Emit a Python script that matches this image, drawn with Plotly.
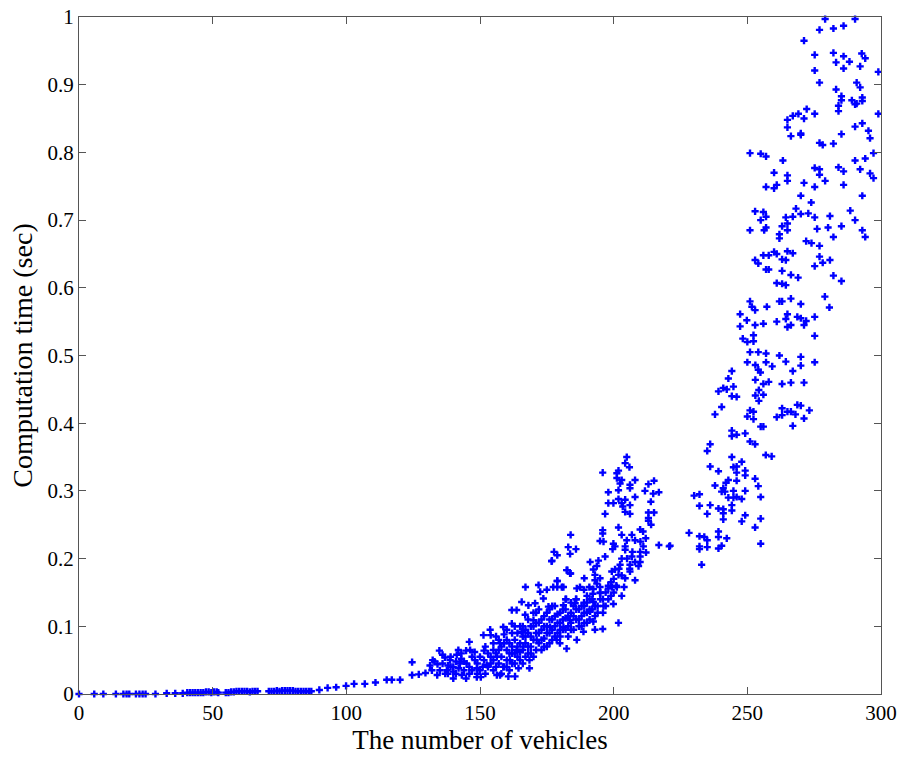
import plotly.graph_objects as go

# (number of vehicles, computation time in sec), grouped by region
low_pts = [
    (0, 0), (5.7, 0), (9.1, 0), (13.8, 0), (16.6, 0), (17.8, 0), (18.8, 0), (21.3, 0), (22.6, 0),
    (23.8, 0), (24.9, 0), (28.6, 0), (32.8, 0.001), (36, 0.001), (38.8, 0.001), (40.5, 0.002),
    (41.5, 0.002), (42.5, 0.002), (43.5, 0.002), (44.5, 0.002), (45.5, 0.002), (46.5, 0.002),
    (47.5, 0.003), (48.5, 0.003), (49.5, 0.002), (50.5, 0.003), (51.5, 0.003), (52.1, 0.002),
    (54.9, 0.002), (55.9, 0.002), (56.9, 0.003), (57.9, 0.003), (58.9, 0.004), (59.9, 0.004),
    (60.9, 0.004), (61.9, 0.004), (62.9, 0.004), (63.9, 0.003), (64.9, 0.004), (65.9, 0.004),
    (66.8, 0.004), (71, 0.004), (72, 0.004), (73, 0.004), (74, 0.005), (75, 0.004), (76, 0.005),
    (77, 0.005), (78, 0.005), (79, 0.005), (80, 0.005), (81, 0.004), (82, 0.004), (83, 0.004),
    (84, 0.004), (85, 0.004), (86, 0.004), (86.9, 0.004), (89.9, 0.006), (93, 0.009),
    (96.2, 0.010), (99.9, 0.012), (102.9, 0.015), (106.9, 0.015), (110.9, 0.017), (115.1, 0.021),
    (117, 0.021), (120.1, 0.021),
]

mid_pts = [
    (124.6, 0.047), (124.6, 0.028), (127.1, 0.029), (129.6, 0.031), (131.3, 0.042), (132.3, 0.050),
    (134.8, 0.064), (134.1, 0.044), (136.9, 0.054), (138.8, 0.050), (140, 0.040), (137.6, 0.035),
    (141.3, 0.058), (141.9, 0.065), (142.5, 0.045), (140, 0.023), (143.2, 0.028), (144.8, 0.023),
    (144.8, 0.064), (146.3, 0.065), (146, 0.077), (148.1, 0.050), (148.8, 0.038), (148.8, 0.025),
    (150.3, 0.025), (151.3, 0.087), (151.5, 0.050), (152.5, 0.043), (151.5, 0.064), (153.8, 0.095),
    (154, 0.087), (155, 0.065), (156.3, 0.028), (157.5, 0.028), (156.3, 0.055), (157.5, 0.075),
    (158.7, 0.099), (160, 0.080), (158.7, 0.040), (160.6, 0.026), (163.1, 0.026), (161.2, 0.050),
    (161.9, 0.104), (161.9, 0.124), (163.7, 0.124), (164.4, 0.038), (163.7, 0.065), (165.6, 0.092),
    (166.2, 0.070), (166.9, 0.117), (165.6, 0.136), (167, 0.158), (168.1, 0.131), (168.5, 0.050),
    (168.5, 0.038), (170, 0.109), (170.6, 0.134), (171.2, 0.080), (171.9, 0.161), (172.5, 0.151),
    (173.7, 0.141), (175, 0.154), (175.6, 0.129), (176.8, 0.196), (177.4, 0.158), (178.9, 0.167),
    (180.6, 0.158), (176.2, 0.099), (178.7, 0.080), (179.9, 0.075), (181.2, 0.099), (182.7, 0.183),
    (183.7, 0.178), (182.4, 0.067), (183.7, 0.109), (185.6, 0.134), (186.2, 0.080),
]

dense_pts = [
    (135, 0.035), (136, 0.045), (137, 0.030), (138, 0.042), (139, 0.055), (140, 0.033), (141, 0.048),
    (142, 0.038), (143, 0.052), (144, 0.035), (145, 0.045), (146, 0.030), (147, 0.055), (149, 0.045),
    (150, 0.035), (152, 0.030), (153, 0.060), (154, 0.045), (155, 0.075), (155, 0.035), (156, 0.060),
    (157, 0.045), (157, 0.080), (158, 0.055), (158, 0.070), (159, 0.040), (159, 0.088), (160, 0.065),
    (160, 0.050), (161, 0.075), (161, 0.035), (162, 0.060), (162, 0.090), (163, 0.045), (163, 0.080),
    (164, 0.070), (164, 0.055), (165, 0.100), (165, 0.062), (166, 0.085), (166, 0.045), (167, 0.075),
    (167, 0.095), (168, 0.060), (168, 0.110), (169, 0.085), (169, 0.070), (170, 0.100), (170, 0.055),
    (171, 0.090), (171, 0.120), (172, 0.075), (172, 0.105), (173, 0.065), (173, 0.095), (174, 0.115),
    (174, 0.082), (175, 0.100), (175, 0.070), (176, 0.125), (176, 0.090), (177, 0.110), (177, 0.080),
    (178, 0.100), (178, 0.130), (179, 0.090), (179, 0.118), (180, 0.105), (180, 0.085), (181, 0.125),
    (181, 0.095), (182, 0.112), (182, 0.140), (183, 0.100), (183, 0.085), (184, 0.120), (184, 0.105),
    (185, 0.130), (185, 0.095), (186, 0.110), (186, 0.140), (187, 0.100), (187, 0.125), (188, 0.115),
    (189, 0.105), (189, 0.130), (190, 0.120), (191, 0.110), (191, 0.140), (192, 0.125), (193, 0.115),
    (194, 0.130), (195, 0.140), (196, 0.120), (197, 0.150), (198, 0.140), (199, 0.165), (200, 0.150),
]

dense_extra_pts = [
    (132, 0.035), (133, 0.048), (134, 0.028), (136, 0.058), (138, 0.030), (139, 0.040), (141, 0.030),
    (143, 0.060), (144, 0.048), (146, 0.040), (147, 0.035), (148, 0.062), (149, 0.030), (150, 0.055),
    (151, 0.040), (152, 0.070), (153, 0.040), (154, 0.055), (155, 0.050), (156, 0.040), (156, 0.085),
    (157, 0.065), (158, 0.030), (159, 0.075), (160, 0.095), (160, 0.040), (161, 0.060), (162, 0.070),
    (162, 0.045), (163, 0.100), (163, 0.060), (164, 0.090), (165, 0.075), (165, 0.050), (166, 0.065),
    (166, 0.100), (167, 0.085), (167, 0.055), (168, 0.090), (168, 0.070), (169, 0.100), (169, 0.060),
    (170, 0.080), (170, 0.120), (171, 0.065), (171, 0.105), (172, 0.090), (172, 0.125), (173, 0.110),
    (173, 0.080), (174, 0.100), (174, 0.070), (175, 0.120), (175, 0.090), (176, 0.110), (176, 0.075),
    (177, 0.095), (177, 0.130), (178, 0.115), (178, 0.085), (179, 0.105), (180, 0.120), (180, 0.095),
    (181, 0.110), (182, 0.125), (182, 0.095), (183, 0.115), (184, 0.135), (184, 0.095), (185, 0.115),
    (186, 0.125), (187, 0.110), (188, 0.130), (188, 0.100), (189, 0.120), (190, 0.135), (190, 0.105),
    (191, 0.125), (192, 0.140), (193, 0.130), (194, 0.120), (195, 0.150), (196, 0.140), (197, 0.130),
    (198, 0.160), (199, 0.145), (200, 0.170), (201, 0.160), (202, 0.185), (203, 0.175), (205, 0.200),
    (206, 0.185), (207, 0.210), (208, 0.195), (210, 0.225), (211, 0.240), (212, 0.230), (214, 0.250),
]

upper_mid_pts = [
    (204.9, 0.350), (204.3, 0.341), (205.9, 0.335), (201.8, 0.330), (201.2, 0.326), (195.9, 0.327),
    (201.2, 0.319), (203, 0.316), (208, 0.316), (202.4, 0.311), (206.1, 0.309), (206.1, 0.304),
    (213, 0.310), (215.1, 0.315), (211.7, 0.300), (214.8, 0.296), (216.9, 0.298), (198, 0.298),
    (201.8, 0.301), (208, 0.291), (201.8, 0.288), (198, 0.282), (199.9, 0.282), (203, 0.282),
    (204.3, 0.287), (203.4, 0.277), (206.1, 0.279), (213.9, 0.284), (196.8, 0.266), (204.3, 0.269),
    (206.1, 0.266), (213, 0.268), (215.1, 0.268), (213, 0.260), (213, 0.256), (201.8, 0.246),
    (195.9, 0.242), (195.9, 0.237), (209.9, 0.243), (203, 0.235), (183.9, 0.235), (194.9, 0.226),
    (196.2, 0.225), (199.9, 0.222), (204.9, 0.227), (206.8, 0.235), (208, 0.227), (200.5, 0.218),
    (204.3, 0.218), (211.1, 0.218), (216.9, 0.220), (220.8, 0.218), (199.6, 0.214), (204.3, 0.213),
    (177.7, 0.210), (178.9, 0.205), (183, 0.217), (185.9, 0.214), (183.7, 0.207), (209.9, 0.210),
    (212.1, 0.209), (206.8, 0.203), (209.9, 0.203), (196.8, 0.203), (203, 0.200), (176.9, 0.197),
    (191.2, 0.195), (194.3, 0.197), (193.7, 0.189), (192.4, 0.184), (202.4, 0.191), (206.1, 0.191),
    (209.9, 0.195), (209.3, 0.189), (200.5, 0.184), (199.3, 0.181), (206.1, 0.181), (182.4, 0.183),
    (183.9, 0.178), (201.8, 0.176), (193, 0.176), (189, 0.171), (194.9, 0.171), (204.3, 0.171),
    (208, 0.168), (178.9, 0.167), (193, 0.168), (193.7, 0.163), (194.9, 0.158), (201.2, 0.158),
    (203.9, 0.158), (178.9, 0.158), (181.2, 0.158), (187.4, 0.158), (190.9, 0.158), (192.4, 0.155),
    (198, 0.156), (199.3, 0.158), (188.9, 0.154), (186.2, 0.156), (194.9, 0.149), (192.2, 0.148),
    (203, 0.145), (190, 0.145), (185.9, 0.140), (188.9, 0.135), (192.4, 0.136), (199.9, 0.133),
    (196.2, 0.130), (182.2, 0.140), (181.2, 0.131), (191.2, 0.122), (201.8, 0.105), (193, 0.095),
    (195.9, 0.096), (192.4, 0.107), (188.7, 0.092),
]

rise_pts = [
    (244.2, 0.477), (242.9, 0.466), (244.8, 0.454), (241, 0.452), (242.3, 0.450), (239.2, 0.447),
    (244.2, 0.440), (246, 0.439), (240.4, 0.424), (237.9, 0.413), (244.2, 0.389), (244.2, 0.381),
    (246, 0.383), (236.1, 0.369), (235, 0.359), (244.2, 0.350), (236.1, 0.336), (244.8, 0.335),
    (246, 0.336), (239.2, 0.329), (246, 0.327), (242.9, 0.316), (246, 0.315), (242, 0.312),
    (237.9, 0.308), (241, 0.304), (240.4, 0.299), (241.6, 0.299), (244.8, 0.300), (230.1, 0.293),
    (232.1, 0.295), (242.9, 0.290), (244.8, 0.290), (246, 0.291), (244.2, 0.279), (232.1, 0.278),
    (236.1, 0.279), (239.2, 0.274), (241, 0.273), (244.2, 0.271), (241, 0.267), (235, 0.266),
    (241, 0.258), (228.2, 0.238), (232.1, 0.233), (233.9, 0.232), (235, 0.227), (239.2, 0.240),
    (239.2, 0.232), (242.3, 0.230), (232.1, 0.218), (232.1, 0.214), (235, 0.217), (239.2, 0.215),
    (240.4, 0.219), (232.9, 0.191), (221.1, 0.219),
    (249.2, 0.385), (251, 0.373), (252.9, 0.369), (256.9, 0.353), (259.1, 0.351), (247.9, 0.343),
    (249.2, 0.330), (249.2, 0.323), (252.9, 0.318), (254.1, 0.307), (249.2, 0.300), (247.9, 0.288),
    (255, 0.291), (249.2, 0.264), (247.9, 0.255), (255, 0.259), (252.9, 0.246), (255, 0.222),
]

top_pts = [
    (279.1, 0.997), (290.3, 0.997), (277, 0.981), (282.2, 0.983), (286, 0.987), (271.2, 0.965),
    (275.2, 0.944), (282.2, 0.947), (286, 0.942), (283.2, 0.933), (288.2, 0.934), (292.8, 0.946),
    (294.1, 0.939), (286, 0.924), (292.2, 0.927), (275.2, 0.921), (299, 0.919), (277, 0.903),
    (290.9, 0.903), (292.2, 0.896), (283.2, 0.893), (285.2, 0.883), (285.2, 0.877), (289.1, 0.877),
    (293, 0.881), (293, 0.876), (284.1, 0.869), (290.3, 0.871), (290.9, 0.872), (284.1, 0.861),
    (272.2, 0.864), (269.1, 0.857), (271.2, 0.850), (275.2, 0.857), (267, 0.854), (265, 0.848),
    (265, 0.837), (299, 0.857), (293, 0.843), (290.3, 0.838), (295.3, 0.832), (266.3, 0.824),
    (270, 0.828), (270, 0.826), (285.2, 0.827), (295.9, 0.821), (277, 0.814), (278.2, 0.811),
    (282.2, 0.813), (297.2, 0.799), (251, 0.799), (255, 0.798), (257, 0.794), (263.3, 0.788),
    (290.3, 0.788), (294.1, 0.791), (284.1, 0.778), (286, 0.772), (275.2, 0.777), (277, 0.775),
    (292.2, 0.775), (260, 0.770), (277, 0.767), (265, 0.766), (265, 0.758), (295.9, 0.769),
    (297.2, 0.762), (279.1, 0.758), (271.2, 0.755), (286, 0.752), (261, 0.752), (260, 0.747),
    (257, 0.749), (275.2, 0.749), (270, 0.736), (293, 0.736), (273.9, 0.726), (268.2, 0.717),
    (288.5, 0.714), (252.9, 0.713), (256, 0.712), (270, 0.709), (272.8, 0.710), (267, 0.705),
    (280.9, 0.706), (264.4, 0.704), (275.2, 0.704), (257, 0.705), (255, 0.700), (290.3, 0.700),
    (265, 0.695), (263, 0.691), (257, 0.689), (256.3, 0.685), (251, 0.685), (265, 0.685),
    (276.1, 0.687), (280.2, 0.689), (285.2, 0.691), (293, 0.685), (262, 0.679), (262, 0.673),
    (282.2, 0.675), (294.1, 0.675), (272, 0.669), (274, 0.666), (277, 0.662), (260, 0.653),
    (261, 0.650), (256, 0.648), (258, 0.648), (265, 0.654), (267, 0.651), (252.9, 0.641),
    (254.1, 0.636), (263, 0.642), (264.4, 0.641), (277, 0.646), (280.9, 0.641), (278.2, 0.637),
    (275.2, 0.632), (257, 0.627), (258, 0.627), (263, 0.625), (266.3, 0.619), (269, 0.615),
    (282.2, 0.618), (285.2, 0.610), (261, 0.607), (263, 0.606), (264.4, 0.604), (279, 0.587),
    (280.7, 0.571), (251, 0.580), (251.7, 0.572), (252.9, 0.567), (257.3, 0.572), (262, 0.580),
    (263, 0.580), (266.3, 0.584), (270, 0.576), (265, 0.561), (247.3, 0.561), (249.8, 0.552),
    (252.9, 0.545), (256, 0.547), (261, 0.550), (264.4, 0.554), (265, 0.542), (266.3, 0.545),
    (268.7, 0.557), (270, 0.555), (271.2, 0.545), (272, 0.551), (275.2, 0.557), (275.2, 0.529),
    (247.3, 0.543), (248.3, 0.525), (250, 0.520), (252.3, 0.530), (252.3, 0.521), (251, 0.505),
    (254.1, 0.505), (257, 0.503), (262, 0.500), (270, 0.498), (275.2, 0.490), (250, 0.490),
    (253, 0.486), (257, 0.490), (259.3, 0.484), (264.4, 0.491), (270, 0.485), (254.1, 0.479),
    (254.9, 0.475), (267, 0.477), (253, 0.464), (258, 0.461), (256, 0.458), (263, 0.458),
    (266.3, 0.460), (271.2, 0.460), (254.3, 0.449), (253, 0.441), (256, 0.442), (254.3, 0.433),
    (251, 0.419), (252.3, 0.417), (250, 0.410), (252.3, 0.406), (261, 0.409), (263, 0.412),
    (263, 0.422), (265, 0.417), (266.3, 0.417), (268, 0.413), (268.7, 0.427), (270, 0.426),
    (271.2, 0.407), (273.2, 0.419), (255, 0.395), (256, 0.395), (267, 0.396),
]

x_ticks = [0, 50, 100, 150, 200, 250, 300]
y_ticks = [0, 0.1, 0.2, 0.3, 0.4, 0.5, 0.6, 0.7, 0.8, 0.9, 1.0]
y_tick_text = ["0", "0.1", "0.2", "0.3", "0.4", "0.5", "0.6", "0.7", "0.8", "0.9", "1"]

all_pts = low_pts + mid_pts + dense_pts + dense_extra_pts + upper_mid_pts + rise_pts + top_pts
xs = [p[0] for p in all_pts]
ys = [p[1] for p in all_pts]

FONT = "Liberation Serif, Times New Roman, serif"

fig = go.Figure()
fig.add_trace(go.Scatter(
    x=xs, y=ys, mode="markers",
    marker=dict(symbol="cross", size=6, color="#0000ff", line=dict(width=0)),
    cliponaxis=False, showlegend=False, hoverinfo="skip",
))

axis_common = dict(
    showgrid=False, zeroline=False, showline=True, linecolor="#555555", linewidth=1,
    mirror="allticks", ticks="inside", ticklen=7, tickcolor="#555555",
    tickfont=dict(family=FONT, size=21, color="#000000"),
    ticklabeloverflow="allow", automargin=False,
)
fig.update_xaxes(
    range=[0, 300], tickvals=x_ticks, ticktext=[str(v) for v in x_ticks],
    title=dict(text="The number of vehicles", font=dict(family=FONT, size=27, color="#000000"), standoff=2),
    **axis_common,
)
fig.update_yaxes(
    range=[0, 1], tickvals=y_ticks, ticktext=y_tick_text,
    title=dict(text="Computation time (sec)", font=dict(family=FONT, size=28, color="#000000"), standoff=6),
    **axis_common,
)
fig.update_layout(
    width=905, height=757,
    margin=dict(l=79, r=24, t=17, b=63),
    paper_bgcolor="#ffffff", plot_bgcolor="#ffffff",
)
# remove the default 8px page margin so the figure fills the window exactly
fig.write_html(
    "out.html",
    config={"displayModeBar": False, "staticPlot": True},
    post_script="document.body.style.margin='0px'; document.body.style.overflow='hidden';",
)
